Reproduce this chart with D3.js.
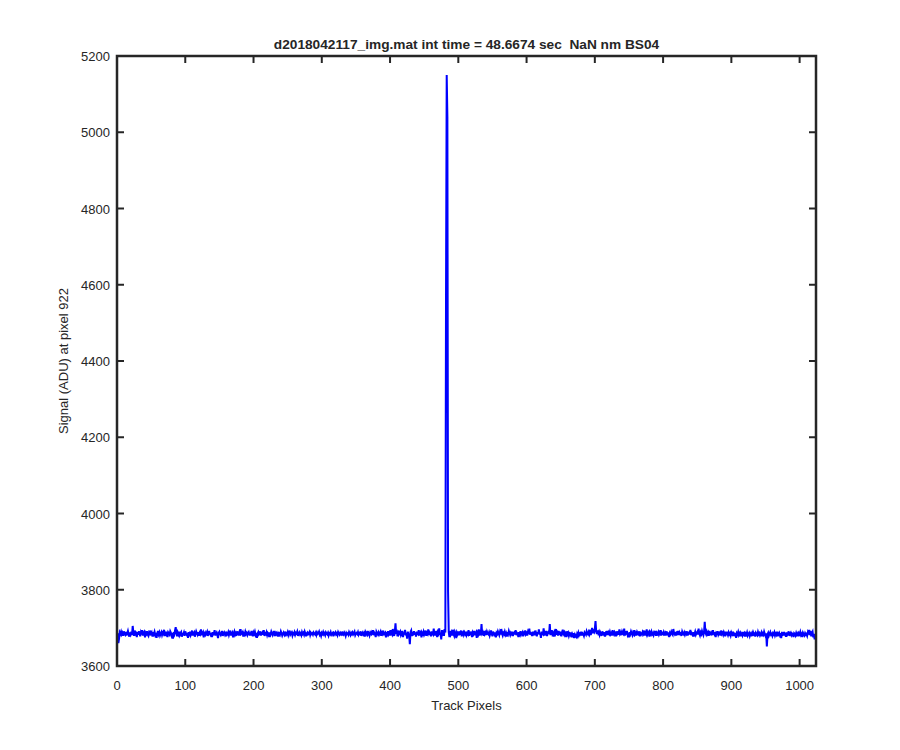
<!DOCTYPE html>
<html>
<head>
<meta charset="utf-8">
<script src="https://cdn.jsdelivr.net/npm/d3@7"></script>
<style>
  body { margin: 0; background: #fff; }
  text { font-family: "Liberation Sans", Arial, sans-serif; fill: #262626; }
</style>
</head>
<body>
<div id="wrapper"></div>
<script>
// Chart text
const titleText = "d2018042117_img.mat int time = 48.6674 sec  NaN nm BS04";
const xLabel = "Track Pixels";
const yLabel = "Signal (ADU) at pixel 922";

// Axis ticks
const xTicks = [0,100,200,300,400,500,600,700,800,900,1000];
const yTicks = [3600,3800,4000,4200,4400,4600,4800,5000,5200];

// Signal values, one per track pixel (1..1024)
const signal = [
  3686,3660,3672,3688,3684,3690,3683,3687,3679,3691,3685,3682,3689,3680,3686,3692,3684,3677,3688,3683,3690,3681,3705,3687,3679,3693,3684,3686,3676,3689,3682,3691,
  3685,3678,3688,3683,3694,3680,3686,3689,3675,3687,3684,3691,3682,3679,3688,3685,3693,3681,3686,3677,3689,3684,3690,3682,3687,3674,3686,3692,3683,3688,3680,3685,
  3689,3681,3687,3684,3695,3679,3686,3683,3690,3676,3688,3685,3682,3691,3687,3680,3686,3672,3689,3684,3693,3702,3685,3678,3688,3683,3690,3681,3686,3689,3677,3684,
  3683,3688,3679,3691,3685,3682,3687,3674,3689,3684,3690,3681,3686,3693,3680,3685,3688,3677,3684,3691,3686,3682,3689,3679,3687,3684,3696,3681,3686,3689,3675,3685,
  3688,3682,3686,3690,3679,3685,3692,3684,3681,3687,3676,3689,3683,3686,3694,3680,3685,3688,3682,3673,3687,3690,3684,3681,3686,3692,3679,3685,3688,3683,3690,3678,
  3686,3684,3689,3681,3687,3693,3680,3685,3688,3675,3684,3690,3682,3686,3679,3691,3685,3683,3688,3680,3697,3684,3686,3689,3677,3685,3682,3690,3684,3687,3681,3686,
  3689,3683,3685,3680,3692,3686,3678,3688,3684,3690,3682,3687,3674,3685,3689,3683,3686,3691,3680,3685,3688,3682,3694,3679,3686,3684,3689,3681,3687,3685,3676,3688,
  3683,3690,3685,3681,3687,3684,3692,3679,3686,3688,3682,3685,3677,3689,3684,3691,3686,3680,3685,3688,3683,3690,3678,3686,3684,3689,3681,3687,3693,3682,3685,3688,
  3680,3686,3684,3689,3682,3687,3685,3690,3679,3684,3688,3683,3686,3681,3689,3684,3687,3682,3690,3685,3678,3686,3688,3683,3685,3689,3681,3687,3684,3686,3682,3688,
  3685,3683,3687,3681,3688,3684,3686,3690,3682,3685,3679,3687,3684,3689,3683,3686,3681,3688,3685,3683,3687,3680,3686,3684,3689,3682,3685,3687,3678,3686,3684,3688,
  3683,3686,3681,3689,3685,3682,3687,3684,3690,3680,3686,3683,3688,3685,3679,3687,3684,3686,3682,3689,3685,3681,3687,3684,3688,3683,3686,3690,3681,3685,3687,3684,
  3689,3682,3686,3684,3691,3679,3685,3688,3683,3686,3677,3689,3685,3682,3692,3684,3687,3680,3686,3689,3683,3685,3694,3681,3687,3684,3676,3690,3686,3683,3688,3682,
  3686,3690,3679,3687,3684,3693,3681,3686,3688,3675,3689,3684,3691,3683,3687,3680,3694,3685,3682,3697,3686,3679,3690,3712,3684,3688,3678,3693,3683,3686,3690,3681,
  3685,3692,3676,3688,3683,3695,3680,3687,3672,3690,3684,3681,3657,3689,3693,3679,3686,3684,3691,3682,3688,3677,3690,3685,3683,3694,3680,3686,3689,3675,3687,3684,
  3690,3682,3686,3693,3679,3687,3684,3696,3681,3688,3685,3678,3691,3686,3683,3698,3680,3687,3684,3692,3676,3689,3685,3699,3682,3687,3670,3694,3684,3688,3679,3697,
  3688,4575,5150,5040,3795,3689,3676,3692,3683,3688,3680,3695,3684,3679,3690,3686,3673,3688,3684,3691,3681,3687,3685,3693,3678,3686,3689,3682,3688,3684,3690,3681,
  3686,3683,3694,3679,3687,3685,3690,3676,3688,3684,3692,3681,3686,3689,3674,3687,3683,3696,3680,3688,3685,3710,3682,3687,3679,3692,3684,3688,3681,3690,3685,3683,
  3688,3680,3686,3693,3684,3678,3690,3685,3682,3688,3675,3687,3684,3691,3686,3681,3689,3683,3697,3685,3680,3687,3684,3690,3682,3686,3677,3689,3684,3692,3686,3681,
  3687,3684,3690,3679,3686,3688,3683,3694,3681,3687,3685,3676,3689,3684,3691,3682,3686,3689,3678,3687,3685,3693,3683,3686,3680,3689,3684,3698,3682,3687,3685,3679,
  3690,3684,3687,3681,3693,3686,3678,3689,3684,3696,3682,3687,3674,3690,3685,3683,3699,3680,3688,3685,3692,3679,3686,3689,3684,3710,3681,3688,3694,3683,3686,3677,
  3689,3685,3697,3682,3687,3680,3692,3685,3683,3690,3678,3688,3695,3684,3681,3689,3686,3676,3691,3683,3687,3679,3685,3682,3688,3675,3684,3680,3686,3673,3682,3678,
  3676,3684,3679,3687,3681,3685,3683,3690,3680,3686,3684,3679,3688,3685,3682,3691,3686,3683,3689,3684,3695,3681,3688,3700,3686,3692,3689,3697,3718,3690,3684,3693,
  3686,3690,3682,3688,3684,3679,3691,3686,3683,3689,3677,3687,3685,3692,3681,3688,3684,3690,3683,3686,3680,3694,3685,3682,3689,3686,3678,3691,3684,3687,3682,3696,
  3684,3687,3681,3690,3685,3683,3698,3680,3688,3686,3692,3682,3687,3675,3689,3684,3691,3686,3681,3688,3684,3694,3683,3686,3680,3689,3685,3683,3691,3678,3687,3685,
  3682,3689,3685,3693,3680,3687,3684,3696,3682,3686,3689,3677,3688,3684,3690,3683,3686,3681,3688,3685,3692,3679,3687,3684,3689,3682,3686,3694,3680,3688,3685,3683,
  3689,3684,3687,3680,3691,3686,3683,3688,3676,3687,3684,3690,3685,3682,3697,3686,3683,3689,3680,3687,3685,3692,3681,3688,3684,3686,3679,3690,3685,3683,3688,3682,
  3687,3684,3691,3680,3686,3688,3683,3695,3681,3687,3685,3677,3689,3684,3690,3682,3686,3689,3683,3698,3685,3680,3688,3684,3692,3686,3681,3689,3716,3687,3683,3690,
  3684,3688,3679,3692,3685,3683,3687,3681,3694,3686,3683,3689,3676,3687,3685,3691,3682,3686,3688,3680,3693,3684,3687,3682,3689,3685,3678,3690,3684,3686,3681,3688,
  3683,3686,3680,3688,3684,3690,3679,3685,3682,3687,3674,3686,3683,3689,3681,3685,3678,3687,3684,3680,3689,3683,3686,3677,3685,3682,3688,3680,3684,3687,3679,3685,
  3682,3686,3679,3688,3683,3685,3677,3687,3684,3681,3689,3683,3686,3680,3684,3688,3678,3685,3682,3690,3684,3679,3686,3651,3683,3687,3680,3685,3689,3682,3684,3679,
  3686,3683,3688,3680,3685,3682,3690,3678,3684,3687,3681,3686,3673,3685,3683,3689,3680,3686,3684,3677,3688,3682,3685,3691,3679,3684,3687,3681,3685,3683,3676,3686,
  3684,3680,3687,3682,3685,3678,3686,3683,3689,3681,3684,3676,3687,3683,3680,3686,3682,3684,3679,3688,3683,3695,3681,3692,3678,3686,3690,3675,3684,3670,3681,3672
];

const width = 900, height = 750;
const margin = {left: 117, right: 84, top: 56, bottom: 84};
const axisColor = "#262626";

const svg = d3.select("#wrapper")
  .append("svg")
  .attr("width", width)
  .attr("height", height)

svg.append("rect").attr("width", width).attr("height", height).attr("fill", "#fff")

const x = d3.scaleLinear().domain([0, 1024]).range([margin.left, width - margin.right])
const y = d3.scaleLinear().domain([3600, 5200]).range([height - margin.bottom, margin.top])

// The signal trace
const line = d3.line()
  .x((d, i) => x(i + 1))
  .y(d => y(d))

svg.append("clipPath").attr("id", "plotclip")
  .append("rect")
  .attr("x", x(0)).attr("y", y(5200))
  .attr("width", x(1024) - x(0)).attr("height", y(3600) - y(5200))

svg.append("path")
  .datum(signal)
  .attr("clip-path", "url(#plotclip)")
  .attr("fill", "none")
  .attr("stroke", "#0000ff")
  .attr("stroke-width", 2)
  .attr("stroke-linejoin", "miter")
  .attr("d", line)

// Ticks pointing inward on all four sides (MATLAB box style)
const tickLen = 7;
const g = svg.append("g").attr("stroke", axisColor).attr("stroke-width", 2)

xTicks.forEach(t => {
  g.append("line").attr("x1", x(t)).attr("x2", x(t)).attr("y1", y(3600)).attr("y2", y(3600) - tickLen)
  g.append("line").attr("x1", x(t)).attr("x2", x(t)).attr("y1", y(5200)).attr("y2", y(5200) + tickLen)
})
yTicks.forEach(t => {
  g.append("line").attr("x1", x(0)).attr("x2", x(0) + tickLen).attr("y1", y(t)).attr("y2", y(t))
  g.append("line").attr("x1", x(1024)).attr("x2", x(1024) - tickLen).attr("y1", y(t)).attr("y2", y(t))
})

// Axes box
svg.append("rect")
  .attr("x", x(0)).attr("y", y(5200))
  .attr("width", x(1024) - x(0)).attr("height", y(3600) - y(5200))
  .attr("fill", "none")
  .attr("stroke", axisColor)
  .attr("stroke-width", 2.5)

// Tick labels
svg.append("g")
  .selectAll("text")
  .data(xTicks)
  .enter()
  .append("text")
    .attr("x", d => x(d))
    .attr("y", y(3600) + 24)
    .attr("text-anchor", "middle")
    .style("font-size", "13px")
    .text(d => d)

svg.append("g")
  .selectAll("text")
  .data(yTicks)
  .enter()
  .append("text")
    .attr("x", x(0) - 7)
    .attr("y", d => y(d) + 5)
    .attr("text-anchor", "end")
    .style("font-size", "13px")
    .text(d => d)

// Title and axis labels
svg.append("text")
  .attr("x", (x(0) + x(1024)) / 2)
  .attr("y", 49)
  .attr("text-anchor", "middle")
  .style("font-size", "13.7px")
  .style("font-weight", "bold")
  .style("white-space", "pre")
  .text(titleText)

svg.append("text")
  .attr("x", (x(0) + x(1024)) / 2)
  .attr("y", 710)
  .attr("text-anchor", "middle")
  .style("font-size", "13px")
  .text(xLabel)

svg.append("text")
  .attr("transform", `translate(68,${(y(3600) + y(5200)) / 2}) rotate(-90)`)
  .attr("text-anchor", "middle")
  .style("font-size", "13px")
  .text(yLabel)
</script>
</body>
</html>
